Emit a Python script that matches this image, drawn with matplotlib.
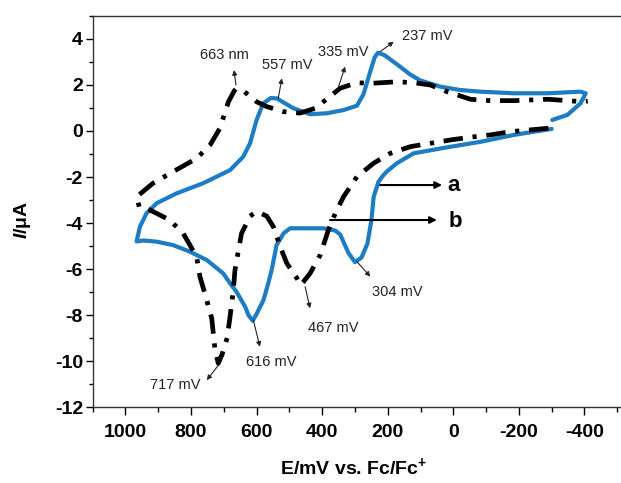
import matplotlib
matplotlib.use("Agg")
import matplotlib.pyplot as plt
from matplotlib.ticker import MultipleLocator, FixedLocator

plt.rcParams['font.family'] = ['Liberation Sans', 'DejaVu Sans']
plt.rcParams['mathtext.fontset'] = 'custom'
plt.rcParams['mathtext.rm'] = 'Liberation Sans:bold'
plt.rcParams['mathtext.bf'] = 'Liberation Sans:bold'
plt.rcParams['mathtext.it'] = 'Liberation Sans:italic:bold'
plt.rcParams['lines.scale_dashes'] = False

# Curve a (blue, solid)
a_E = [-300, -185, -83, 19, 121, 172, 202, 215, 228, 243, 250, 262, 280, 300, 320, 345, 360, 376,
       396, 447, 498, 518, 528, 539, 554, 566, 579, 600, 612, 625, 635, 661, 681, 702, 752, 803, 855,
       905, 945, 966, 956, 936, 905, 844, 763, 681, 641, 620, 600, 580, 557, 539,
       488, 437, 386, 335, 294, 274, 253, 240, 230, 210, 172, 131, 101, 40, -22, -83, -185,
       -287, -388, -404, -388, -348, -302]
a_I = [0.09, -0.17, -0.47, -0.71, -0.97, -1.40, -1.75, -1.95, -2.20, -2.86, -3.90, -4.90, -5.50, -5.70, -5.30, -4.50, -4.33, -4.28,
       -4.23, -4.23, -4.23, -4.45, -4.70, -4.95, -6.04, -6.70, -7.35, -7.95, -8.25, -8.00, -7.64, -7.00, -6.62, -6.19, -5.61, -5.25, -4.96,
       -4.81, -4.76, -4.80, -4.16, -3.58, -3.14, -2.71, -2.27, -1.70, -1.12, -0.53, 0.48, 1.20, 1.43, 1.42,
       0.99, 0.73, 0.77, 0.91, 1.10, 1.60, 2.60, 3.20, 3.40, 3.30, 2.90, 2.45, 2.20, 1.93, 1.78, 1.71, 1.64,
       1.64, 1.71, 1.64, 1.20, 0.70, 0.48]

# Curve b (black, dash-dot)
b_E = [-290, -236, -174, -113, -52, 9, 131, 192, 243, 294, 335, 360, 381, 406, 437,
       457, 467, 477, 508, 528, 549, 569, 600, 620, 646, 666, 671, 681, 690, 705,
       717, 727, 737, 758, 773, 783, 824, 865, 926, 958, 966, 916, 855, 783, 742,
       712, 686, 668, 663, 641, 600, 569, 518, 467, 421, 345, 294, 253, 172, 121,
       70, 19, -12, -52, -113, -185, -236, -287, -398, -410]
b_I = [0.12, 0.05, -0.03, -0.17, -0.27, -0.39, -0.68, -0.97, -1.40, -1.99, -2.86, -3.58, -4.30, -5.39, -6.19,
       -6.55, -6.70, -6.40, -5.75, -5.03, -4.16, -3.70, -3.50, -3.70, -4.45, -6.04, -6.91, -8.07, -9.00, -9.70,
       -10.10, -9.50, -8.14, -7.06, -6.33, -5.47, -4.45, -3.87, -3.43, -3.30, -2.86, -2.27, -1.77, -1.19, -0.61,
       0.12, 1.27, 1.75, 1.83, 1.75, 1.27, 1.06, 0.84, 0.78, 0.99, 1.86, 2.10, 2.07, 2.14, 2.10,
       2.00, 1.71, 1.57, 1.38, 1.32, 1.32, 1.35, 1.38, 1.27, 1.30]

# Peak annotations: label, text position, arrow tail (on curve), arrow head
ann_labels = ["663 nm", "557 mV", "335 mV", "237 mV", "616 mV", "467 mV", "304 mV", "717 mV"]
ann_text = [(697, 3.3), (508, 2.87), (335, 3.45), (80, 4.13), (554, -10.03), (366, -8.58), (172, -6.99), (849, -11.04)]
ann_tail = [(663, 2.0), (534, 1.42), (350, 1.93), (223, 3.45), (610, -8.22), (452, -6.77), (294, -5.68), (712, -10.1)]
ann_head = [(669, 2.65), (523, 2.29), (330, 2.8), (182, 3.88), (590, -9.38), (437, -7.71), (253, -6.33), (752, -10.83)]

curve_labels = ["a", "b"]
curve_label_pos = [(-1, -2.35), (-6, -3.94)]
curve_arrow_from = [(223, -2.35), (376, -3.87)]
curve_arrow_to = [(34, -2.35), (50, -3.87)]

x_ticks = [1000, 800, 600, 400, 200, 0, -200, -400]
y_ticks = [-12, -10, -8, -6, -4, -2, 0, 2, 4]

fig = plt.figure(figsize=(6.21, 4.83), dpi=100)
ax = fig.add_axes([0.1493, 0.1573, 0.8525, 0.8096])

ax.plot(a_E, a_I, color='#1c7cc4', lw=3.0, solid_joinstyle='round', solid_capstyle='round', zorder=3)
ax.plot(b_E, b_I, color='black', lw=3.4, linestyle=(0, (14, 7, 3, 7)), dash_capstyle='butt', zorder=4)

ax.set_xlim(1100, -515)
ax.set_ylim(-12, 5)
ax.xaxis.set_major_locator(FixedLocator(x_ticks))
ax.xaxis.set_minor_locator(MultipleLocator(100))
ax.yaxis.set_major_locator(FixedLocator(y_ticks))
ax.yaxis.set_minor_locator(MultipleLocator(1))
ax.set_xticklabels([str(v) for v in x_ticks], fontsize=14, fontweight='bold')
ax.set_yticklabels([str(v) for v in y_ticks], fontsize=14, fontweight='bold')
ax.tick_params(axis='x', which='major', direction='out', length=6, width=1, pad=6)
ax.tick_params(axis='x', which='minor', direction='out', length=3.5, width=1)
ax.tick_params(axis='y', which='major', direction='out', length=5, width=1, pad=2)
ax.tick_params(axis='y', which='minor', direction='out', length=3, width=1)
for s in ax.spines.values():
    s.set_linewidth(1.0)
    s.set_color('#333333')

for lab, t, tail, head in zip(ann_labels, ann_text, ann_tail, ann_head):
    ax.text(t[0], t[1], lab, fontsize=10.5, ha='center', va='center', color='#222222')
    ax.annotate('', xy=head, xytext=tail,
                arrowprops=dict(arrowstyle='-|>', lw=0.8, color='#222222', mutation_scale=7, shrinkA=0, shrinkB=0))

for lab, p, f, t in zip(curve_labels, curve_label_pos, curve_arrow_from, curve_arrow_to):
    ax.text(p[0], p[1], lab, fontsize=16, fontweight='bold', ha='center', va='center')
    ax.annotate('', xy=t, xytext=f,
                arrowprops=dict(arrowstyle='-|>', lw=1.5, color='black', mutation_scale=10, shrinkA=0, shrinkB=0))

fig.text(0.036, 0.545, r'$\mathit{I}$/μA', rotation=90, ha='center', va='center', fontsize=14, fontweight='bold')
fig.text(0.570, 0.033, r'E/mV vs. Fc/Fc$^{+}$', ha='center', va='center', fontsize=14, fontweight='bold')

fig.savefig('out.png', dpi=100)
